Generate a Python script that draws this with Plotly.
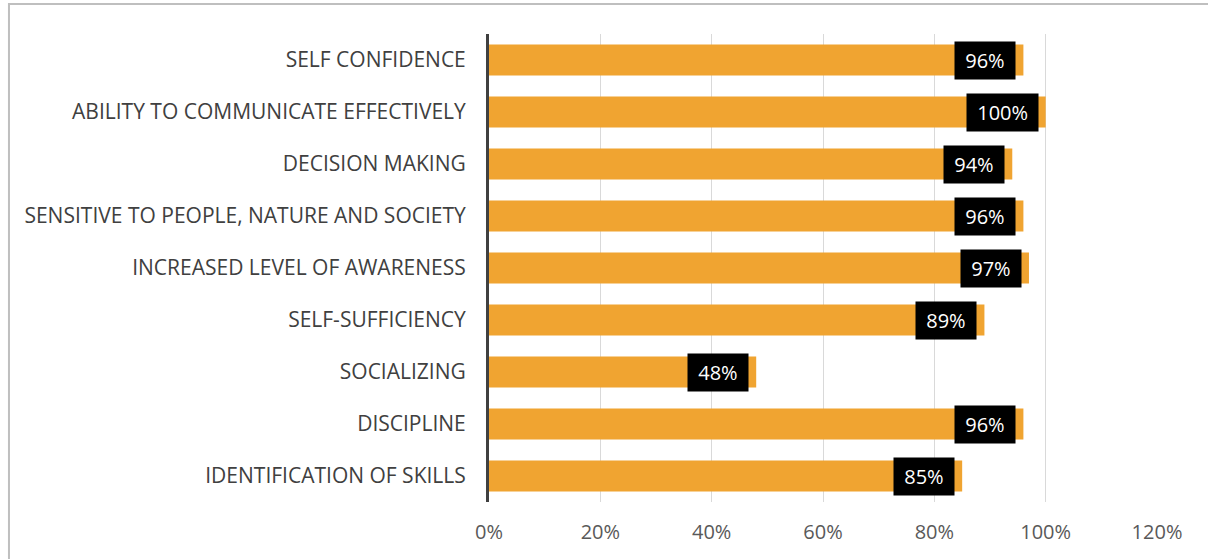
import plotly.graph_objects as go

categories = [
    "SELF CONFIDENCE",
    "ABILITY TO COMMUNICATE EFFECTIVELY",
    "DECISION MAKING",
    "SENSITIVE TO PEOPLE, NATURE AND SOCIETY",
    "INCREASED LEVEL OF AWARENESS",
    "SELF-SUFFICIENCY",
    "SOCIALIZING",
    "DISCIPLINE",
    "IDENTIFICATION OF SKILLS",
]
values = [0.96, 1.00, 0.94, 0.96, 0.97, 0.89, 0.48, 0.96, 0.85]
tick_vals = [0, 0.2, 0.4, 0.6, 0.8, 1.0, 1.2]
tick_text = ["0%", "20%", "40%", "60%", "80%", "100%", "120%"]

font_family = "Open Sans, Liberation Sans, sans-serif"

fig = go.Figure()
fig.add_trace(go.Bar(
    y=categories,
    x=values,
    orientation="h",
    marker=dict(color="#F0A431", line=dict(width=0)),
    width=0.6,
    hoverinfo="skip",
))

for c, v in zip(categories, values):
    fig.add_annotation(
        x=v, y=c, xref="x", yref="y",
        text="\u00a0" + f"{round(v*100)}%" + "\u00a0",
        showarrow=False,
        xanchor="right",
        xshift=-7,
        bgcolor="black",
        borderpad=5,
        font=dict(color="white", size=20, family=font_family),
    )

fig.add_shape(
    type="rect", xref="paper", yref="paper",
    x0=-0.7186, x1=1.2, y0=1.0641, y1=-0.5,
    line=dict(color="#BFBFBF", width=2),
    fillcolor="rgba(0,0,0,0)",
)

fig.update_layout(
    width=1208, height=559,
    margin=dict(l=489, r=51, t=34, b=57),
    plot_bgcolor="white",
    paper_bgcolor="white",
    showlegend=False,
    xaxis=dict(
        range=[0, 1.2],
        tickvals=tick_vals,
        ticktext=tick_text,
        showgrid=True,
        gridcolor="#D9D9D9",
        gridwidth=1,
        zeroline=False,
        showline=False,
        tickfont=dict(size=20, color="#595959", family=font_family),
        ticks="outside",
        ticklen=12,
        tickcolor="rgba(0,0,0,0)",
    ),
    yaxis=dict(
        autorange="reversed",
        showline=True,
        linecolor="#404040",
        linewidth=3,
        showgrid=False,
        ticks="outside",
        ticklen=16,
        tickcolor="rgba(0,0,0,0)",
        tickfont=dict(size=21, color="#404040", family=font_family),
    ),
)

fig.write_html(
    "out.html",
    config={"displayModeBar": False},
    post_script="document.body.style.margin='0';document.body.style.overflow='hidden';",
)
